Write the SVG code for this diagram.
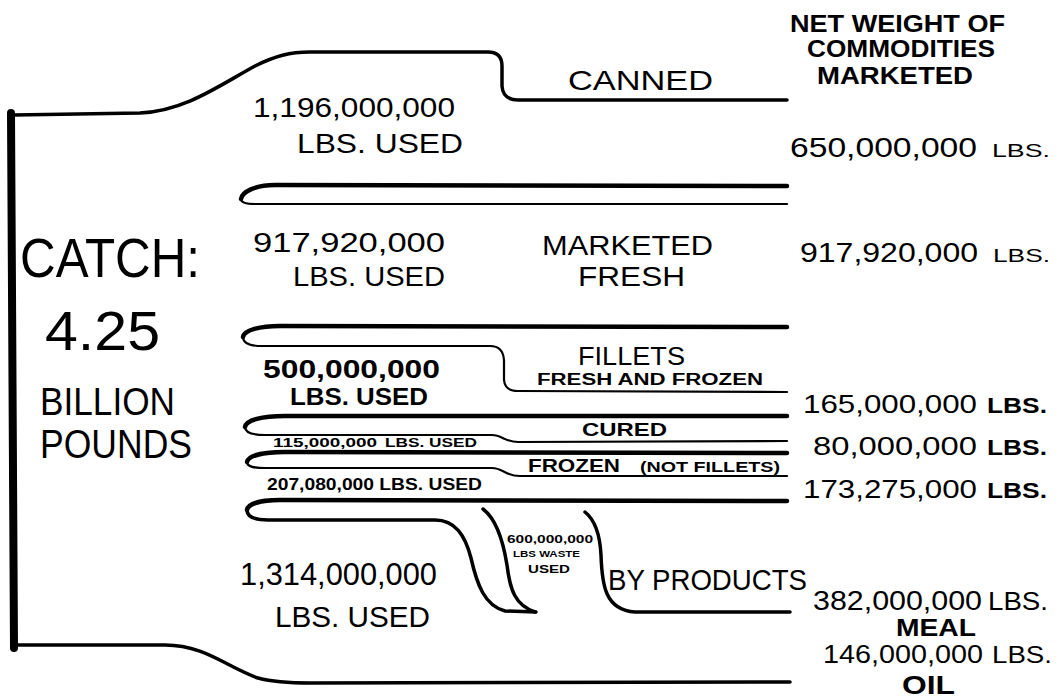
<svg xmlns="http://www.w3.org/2000/svg" width="1059" height="700" viewBox="0 0 1059 700">
<style>
.ln{fill:none;stroke:#000;stroke-linecap:round;stroke-linejoin:round}
.o{stroke-width:3.5}
.tk{stroke-width:4.5}
.tn{stroke-width:2.2}
text{font-family:"Liberation Sans",Arial,sans-serif;fill:#000}
.b{font-weight:bold}
</style>
<rect width="1059" height="700" fill="#fff"/>
<g id="connectors">
<path class="ln" d="M11 113 L14 648" stroke-width="8" fill="none" stroke="#000"/>
<path class="ln o" d="M14 115 L140 113 C185 111 220 85 255 66 C275 56 290 52 310 52 L488 52 Q502 52 502 66 L502 86 Q503 100 518 100 L787 100"/>
<path class="ln o" d="M14 645 L165 645 C205 645 228 668 258 678 C273 682 290 683 310 683 L790 682"/>
<path class="ln tk" d="M787 186 L275 185 C255 185 242 192 241 199"/>
<path class="ln tn" d="M241 199 C241 203 247 204 255 204 L787 204"/>
<path class="ln tk" d="M787 327 L280 326 C260 326 244 330 243 337"/>
<path class="ln tn" d="M243 337 C243 343 250 346 262 346 L490 346 Q503 346 504 360 L504 380 Q505 391 518 391 L787 392"/>
<path class="ln tk" d="M787 416 L285 416 C262 416 246 420 245 427"/>
<path class="ln tn" d="M245 427 C245 432 252 435 265 435 L492 435 C502 435 505 442 518 442 L787 441"/>
<path class="ln tk" d="M787 453 L285 452 C262 452 248 456 247 462"/>
<path class="ln tn" d="M247 462 C247 467 254 468 266 468 L492 468 C503 468 505 476 520 476 L787 476"/>
<path class="ln tk" d="M787 501 L280 500 C260 500 248 504 247 510"/>
<path class="ln o" d="M247 510 C247 517 255 520 268 520 L435 520 C455 520 465 535 471 558 C477 585 485 606 505 611 L536 612"/>
<path class="ln o" d="M483 509 C495 518 503 540 507 565 C510 590 515 605 535 612"/>
<path class="ln o" d="M585 512 C595 520 600 535 601 555 C602 585 605 610 635 612 L790 612"/>
</g>
<g id="catch">
<text x="20" y="277" font-size="56" textLength="180" lengthAdjust="spacingAndGlyphs">CATCH:</text>
<text x="45" y="350" font-size="56" textLength="115" lengthAdjust="spacingAndGlyphs">4.25</text>
<text x="40" y="415" font-size="39" textLength="135" lengthAdjust="spacingAndGlyphs">BILLION</text>
<text x="40" y="458" font-size="40" textLength="152" lengthAdjust="spacingAndGlyphs">POUNDS</text>
</g>
<g id="header">
<text class="b" x="790" y="32" font-size="23" textLength="215" lengthAdjust="spacingAndGlyphs">NET WEIGHT OF</text>
<text class="b" x="807" y="57" font-size="23" textLength="188" lengthAdjust="spacingAndGlyphs">COMMODITIES</text>
<text class="b" x="817" y="84" font-size="23" textLength="156" lengthAdjust="spacingAndGlyphs">MARKETED</text>
</g>
<g id="canned">
<text x="253" y="117" font-size="28" textLength="202" lengthAdjust="spacingAndGlyphs">1,196,000,000</text>
<text x="297" y="153" font-size="28" textLength="166" lengthAdjust="spacingAndGlyphs">LBS. USED</text>
<text x="568" y="90" font-size="28" textLength="145" lengthAdjust="spacingAndGlyphs">CANNED</text>
<text x="790" y="157" font-size="28" textLength="187" lengthAdjust="spacingAndGlyphs">650,000,000</text>
<text x="992" y="157" font-size="19" textLength="58" lengthAdjust="spacingAndGlyphs">LBS.</text>
</g>
<g id="fresh">
<text x="253" y="252" font-size="28" textLength="192" lengthAdjust="spacingAndGlyphs">917,920,000</text>
<text x="293" y="286" font-size="28" textLength="152" lengthAdjust="spacingAndGlyphs">LBS. USED</text>
<text x="542" y="255" font-size="28" textLength="171" lengthAdjust="spacingAndGlyphs">MARKETED</text>
<text x="578" y="286" font-size="28" textLength="107" lengthAdjust="spacingAndGlyphs">FRESH</text>
<text x="800" y="262" font-size="28" textLength="178" lengthAdjust="spacingAndGlyphs">917,920,000</text>
<text x="993" y="262" font-size="19" textLength="57" lengthAdjust="spacingAndGlyphs">LBS.</text>
</g>
<g id="fillets">
<text class="b" x="263" y="378" font-size="25" textLength="177" lengthAdjust="spacingAndGlyphs">500,000,000</text>
<text class="b" x="290" y="405" font-size="24" textLength="138" lengthAdjust="spacingAndGlyphs">LBS. USED</text>
<text x="578" y="365" font-size="26" textLength="107" lengthAdjust="spacingAndGlyphs">FILLETS</text>
<text class="b" x="537" y="385" font-size="16" textLength="226" lengthAdjust="spacingAndGlyphs">FRESH AND FROZEN</text>
<text x="803" y="413" font-size="26" textLength="174" lengthAdjust="spacingAndGlyphs">165,000,000</text>
<text class="b" x="987" y="413" font-size="22" textLength="60" lengthAdjust="spacingAndGlyphs">LBS.</text>
</g>
<g id="cured">
<text class="b" x="273" y="447" font-size="13" textLength="104" lengthAdjust="spacingAndGlyphs">115,000,000</text>
<text class="b" x="385" y="447" font-size="12" textLength="92" lengthAdjust="spacingAndGlyphs">LBS. USED</text>
<text class="b" x="582" y="436" font-size="18" textLength="85" lengthAdjust="spacingAndGlyphs">CURED</text>
<text x="813" y="455" font-size="26" textLength="164" lengthAdjust="spacingAndGlyphs">80,000,000</text>
<text class="b" x="987" y="455" font-size="22" textLength="60" lengthAdjust="spacingAndGlyphs">LBS.</text>
</g>
<g id="frozen">
<text class="b" x="528" y="472" font-size="19" textLength="92" lengthAdjust="spacingAndGlyphs">FROZEN</text>
<text class="b" x="640" y="472" font-size="14" textLength="140" lengthAdjust="spacingAndGlyphs">(NOT FILLETS)</text>
<text class="b" x="267" y="490" font-size="17" textLength="215" lengthAdjust="spacingAndGlyphs">207,080,000 LBS. USED</text>
<text x="803" y="498" font-size="26" textLength="174" lengthAdjust="spacingAndGlyphs">173,275,000</text>
<text class="b" x="987" y="498" font-size="22" textLength="60" lengthAdjust="spacingAndGlyphs">LBS.</text>
</g>
<g id="byproducts">
<text x="240" y="585" font-size="32" textLength="197" lengthAdjust="spacingAndGlyphs">1,314,000,000</text>
<text x="275" y="627" font-size="29" textLength="155" lengthAdjust="spacingAndGlyphs">LBS. USED</text>
<text class="b" x="507" y="543" font-size="11" textLength="86" lengthAdjust="spacingAndGlyphs">600,000,000</text>
<text class="b" x="513" y="557" font-size="9" textLength="67" lengthAdjust="spacingAndGlyphs">LBS WASTE</text>
<text class="b" x="528" y="573" font-size="11" textLength="42" lengthAdjust="spacingAndGlyphs">USED</text>
<text x="608" y="590" font-size="30" textLength="199" lengthAdjust="spacingAndGlyphs">BY PRODUCTS</text>
<text x="813" y="610" font-size="27" textLength="169" lengthAdjust="spacingAndGlyphs">382,000,000</text>
<text x="988" y="610" font-size="26" textLength="60" lengthAdjust="spacingAndGlyphs">LBS.</text>
<text class="b" x="896" y="636" font-size="23" textLength="80" lengthAdjust="spacingAndGlyphs">MEAL</text>
<text x="823" y="663" font-size="25" textLength="160" lengthAdjust="spacingAndGlyphs">146,000,000</text>
<text x="992" y="663" font-size="24" textLength="60" lengthAdjust="spacingAndGlyphs">LBS.</text>
<text class="b" x="902" y="694" font-size="25" textLength="53" lengthAdjust="spacingAndGlyphs">OIL</text>
</g>
</svg>
